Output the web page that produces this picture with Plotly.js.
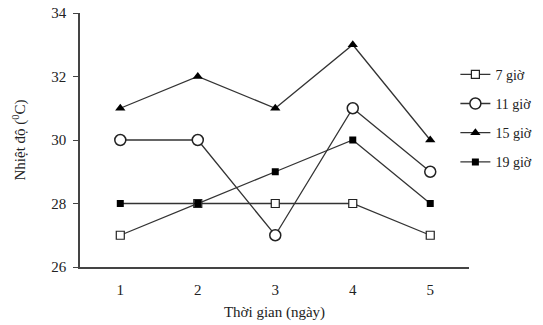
<!DOCTYPE html>
<html><head><meta charset="utf-8">
<script src="https://cdn.plot.ly/plotly-3.0.1.min.js"></script>
<style>body{margin:0;background:#fff}#c{width:543px;height:325px}</style>
</head><body><div id="c"></div>
<script>
const days = [1, 2, 3, 4, 5];
const seriesNames = ["7 giờ", "11 giờ", "15 giờ", "19 giờ"];
const t7 = [27, 28, 28, 28, 27];
const t11 = [30, 30, 27, 31, 29];
const t15 = [31, 32, 31, 33, 30];
const t19 = [28, 28, 29, 30, 28];
const yTicks = [26, 28, 30, 32, 34];

const lineColor = '#333';
const markers = [
  {symbol: 'square', size: 8, color: '#fff', line: {width: 1.2, color: '#222'}},
  {symbol: 'circle', size: 11, color: '#fff', line: {width: 1.5, color: '#222'}},
  {symbol: 'triangle-up', size: 9, color: '#000'},
  {symbol: 'square', size: 7, color: '#000'}
];
const values = [t7, t11, t15, t19];
const traces = values.map((v, i) => ({
  x: days, y: v, name: seriesNames[i], type: 'scatter', mode: 'lines+markers',
  line: {color: lineColor, width: 1.3},
  marker: markers[i], legendgroup: 'g' + i, cliponaxis: false
}));

const layout = {
  width: 543, height: 325,
  margin: {l: 80, r: 74, t: 13, b: 58, autoexpand: false},
  paper_bgcolor: '#fff', plot_bgcolor: '#fff',
  font: {family: 'Liberation Serif, serif', color: '#222', size: 15},
  showlegend: true,
  legend: {x: 0.965, y: 0.82, xanchor: 'left', yanchor: 'top', itemwidth: 30,
    traceorder: 'grouped', tracegroupgap: 8, font: {size: 14, family: 'Liberation Serif, serif'},
    bgcolor: 'rgba(0,0,0,0)'},
  xaxis: {range: [0.48, 5.5], tickvals: days, ticktext: days.map(String), showgrid: false, zeroline: false,
    showline: true, linecolor: '#444', linewidth: 1.5, ticks: '', ticklen: 0, ticklabelstandoff: 8,
    title: {text: 'Thời gian (ngày)', font: {size: 15}, standoff: 10}},
  yaxis: {range: [26, 34], tickvals: yTicks, showgrid: false, zeroline: false,
    showline: true, linecolor: '#444', linewidth: 1.5, ticks: 'outside', ticklen: 5, tickcolor: '#444',
    ticklabelstandoff: 4,
    title: {text: 'Nhiệt độ (<sup>0</sup>C)', font: {size: 15}, standoff: 22}}
};
Plotly.newPlot('c', traces, layout, {displayModeBar: false});
</script></body></html>
